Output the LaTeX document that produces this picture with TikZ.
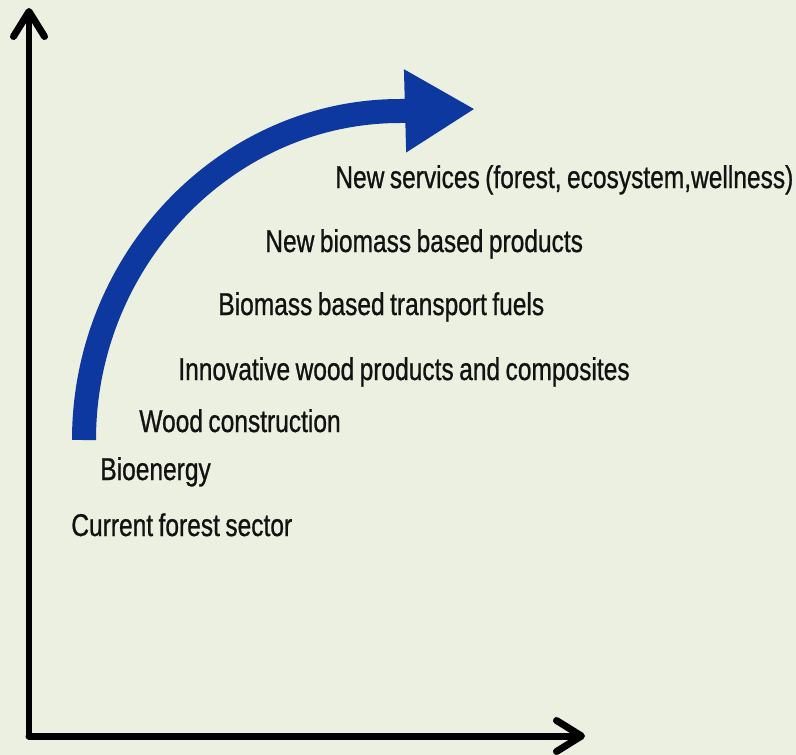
\documentclass[tikz,border=0pt]{standalone}
\usepackage{fontspec}
\setmainfont{Liberation Sans}[FakeStretch=0.78,FakeBold=0.8,WordSpace=0.8]
\usetikzlibrary{arrows.meta}
\definecolor{bgcol}{RGB}{236,240,224}
\definecolor{bandblue}{RGB}{12,56,160}
\begin{document}
\begin{tikzpicture}[x=0.02cm,y=-0.02cm,
    axis/.style={line width=0.14cm,line cap=round,-{Straight Barb[length=0.5cm,width=0.62cm,round]}},
    stage/.style={anchor=base west,inner sep=0pt,font=\fontsize{17.9pt}{20pt}\selectfont,text=black!93}]
    %Background
    \fill[bgcol] (0,0) rectangle (796,755);
    \useasboundingbox (0,0) rectangle (796,755);

    %Axes
    \coordinate (origin) at (29,736);
    \coordinate (ytop) at (29,8);
    \coordinate (xend) at (585,736);
    \draw[axis] (origin) -- (ytop);
    \draw[axis] (origin) -- (xend);

    %Stages
    \node[stage] (current) at (71,536) {Current forest sector};
    \node[stage] (bioen) at (100,480) {Bioenergy};
    \node[stage] (woodcon) at (139,432) {Wood construction};
    \node[stage] (innov) at (178,380) {Innovative wood products and composites};
    \node[stage] (fuels) at (218,315) {Biomass based transport fuels};
    \node[stage] (biomass) at (265,252) {New biomass based products};
    \node[stage] (services) at (335,188) {New services (forest, ecosystem,wellness)};

    %Growth arrow
    \coordinate (start) at (84,440);
    \coordinate (bend) at (400,111);
    \coordinate (tip) at (475,109);
    \draw[bandblue,line width=0.48cm,-{Triangle[length=1.4cm,width=1.56cm]}]
        (start) .. controls (84,260) and (226,111) .. (bend) -- (tip);
\end{tikzpicture}
\end{document}
